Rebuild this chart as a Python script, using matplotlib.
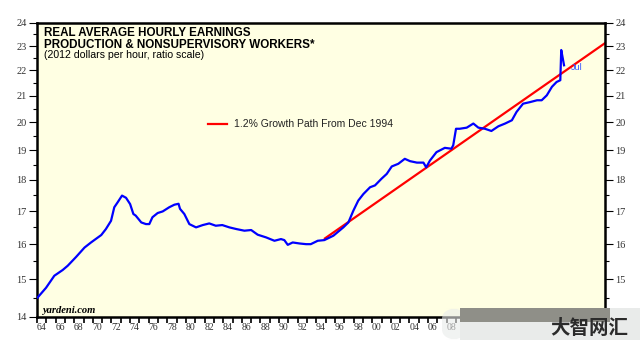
import matplotlib
matplotlib.use("Agg")
import matplotlib.pyplot as plt
from matplotlib.ticker import FixedLocator, NullFormatter, FixedFormatter
from matplotlib.patches import FancyBboxPatch, Rectangle

# real average hourly earnings, production & nonsupervisory workers (2012 $)
years = [1964.07, 1964.97, 1965.86, 1966.76, 1967.3, 1968.2, 1969.1, 1969.8,
         1970.3, 1970.9, 1971.4, 1971.95, 1972.3, 1972.67, 1973.13, 1973.56,
         1974.0, 1974.35, 1974.6, 1975.2, 1975.7, 1976.06, 1976.4, 1976.96,
         1977.5, 1978.2, 1978.75, 1979.2, 1979.36, 1979.82, 1980.36, 1981.08,
         1981.8, 1982.5, 1983.2, 1983.9, 1984.66, 1985.4, 1986.27, 1987.0,
         1987.7, 1988.6, 1989.5, 1990.2, 1990.56, 1990.93, 1991.46, 1992.2,
         1992.9, 1993.4, 1994.15, 1994.86, 1995.83, 1996.9, 1997.44, 1997.97,
         1998.5, 1999.05, 1999.77, 2000.3, 2001.0, 2001.56, 2002.1, 2002.8,
         2003.5, 2004.06, 2004.8, 2005.5, 2005.8, 2006.2, 2006.9, 2007.8,
         2008.5, 2008.7, 2009.0, 2009.4, 2010.15, 2010.86, 2011.4, 2012.1,
         2012.8, 2013.55, 2014.27, 2015.0, 2015.5, 2016.2, 2016.95, 2017.7,
         2018.2, 2018.75, 2019.3, 2019.8, 2020.2, 2020.3, 2020.5, 2020.6]
earnings = [14.51, 14.77, 15.10, 15.26, 15.38, 15.63, 15.90, 16.05,
            16.15, 16.27, 16.45, 16.70, 17.12, 17.28, 17.49, 17.42,
            17.22, 16.91, 16.86, 16.65, 16.60, 16.60, 16.81, 16.94,
            16.99, 17.12, 17.20, 17.23, 17.07, 16.91, 16.60, 16.50,
            16.57, 16.62, 16.55, 16.57, 16.50, 16.45, 16.40, 16.42,
            16.28, 16.20, 16.10, 16.15, 16.12, 15.98, 16.05, 16.02,
            16.00, 16.00, 16.10, 16.12, 16.25, 16.50, 16.65, 17.01,
            17.33, 17.54, 17.76, 17.82, 18.04, 18.20, 18.45, 18.54,
            18.71, 18.63, 18.58, 18.58, 18.42, 18.65, 18.94, 19.09,
            19.06, 19.18, 19.77, 19.77, 19.81, 19.96, 19.81, 19.77,
            19.69, 19.86, 19.96, 20.08, 20.39, 20.70, 20.76, 20.83,
            20.83, 21.02, 21.35, 21.54, 21.61, 22.84, 22.42, 22.21]

# 1.2% growth path from Dec 1994 (end points)
path_years = [1994.92, 2025.0]
path_values = [16.17, 23.13]

y_ticks = [14, 15, 16, 17, 18, 19, 20, 21, 22, 23, 24]
y_minor = [14.5, 15.5, 16.5, 17.5, 18.5, 19.5, 20.5, 21.5, 22.5, 23.5]
year_ticks = list(range(1964, 2026))
# labels after 08 are hidden under the watermark in the reference
label_years = list(range(1964, 2009, 2))
year_labels = ["%02d" % (y % 100) for y in label_years]

fig = plt.figure(figsize=(6.4, 3.56), dpi=100)
ax = fig.add_axes([37 / 640, 1 - 317 / 356, 568 / 640, 294 / 356])
ax.set_facecolor("#ffffe3")

ax.plot(years, earnings, color="#0000ff", lw=1.6, zorder=3)
ax.plot(path_years, path_values, color="#ff0000", lw=1.6, zorder=2,
        label="1.2% Growth Path From Dec 1994")

ax.set_yscale("log")
ax.set_ylim(14, 24)
ax.set_xlim(1964, 2025)

serif = "Liberation Serif"
ax.yaxis.set_major_locator(FixedLocator(y_ticks))
ax.yaxis.set_major_formatter(FixedFormatter([str(v) for v in y_ticks]))
ax.yaxis.set_minor_locator(FixedLocator(y_minor))
ax.yaxis.set_minor_formatter(NullFormatter())
ax.tick_params(axis="y", which="major", direction="out", length=6, width=0.8,
               left=True, right=True, labelleft=True, labelright=True,
               labelsize=7.5, pad=1.5, labelcolor="#333333")
ax.tick_params(axis="y", which="minor", direction="out", length=3, width=0.8,
               left=True, right=True)
for lab in ax.get_yticklabels():
    lab.set_family(serif)
# right-hand "14" sits under the watermark band
ax.yaxis.get_major_ticks()[0].label2.set_visible(False)

ax.xaxis.set_major_locator(FixedLocator(year_ticks))
ax.xaxis.set_major_formatter(NullFormatter())
ax.xaxis.set_minor_locator(FixedLocator([y + 0.5 for y in label_years]))
ax.xaxis.set_minor_formatter(FixedFormatter(year_labels))
ax.tick_params(axis="x", which="major", direction="out", length=4, width=1.2,
               colors="black")
ax.tick_params(axis="x", which="minor", length=0, labelsize=7, pad=4,
               labelcolor="#333333")
for lab in ax.get_xticklabels(minor=True):
    lab.set_family(serif)

for s in ax.spines.values():
    s.set_linewidth(1.8)

fs = dict(transform=fig.transFigure, ha="left", va="baseline")
fig.text(44 / 640, 1 - 35.5 / 356, "REAL AVERAGE HOURLY EARNINGS",
         family="Liberation Sans", weight="bold", fontsize=8.4, **fs)
fig.text(44 / 640, 1 - 47.5 / 356, "PRODUCTION & NONSUPERVISORY WORKERS*",
         family="Liberation Sans", weight="bold", fontsize=8.4, **fs)
fig.text(44 / 640, 1 - 58 / 356, "(2012 dollars per hour, ratio scale)",
         family="Liberation Sans", fontsize=7.6, **fs)
fig.text(42 / 640, 1 - 313 / 356, "yardeni.com", family=serif,
         weight="bold", style="italic", fontsize=7.6, **fs)
ax.text(years[-1] + 0.7, 22.1, "Jul", color="#3355ff", fontsize=6.5,
        family="Liberation Sans", ha="left", va="center")

leg = ax.legend(loc="upper left", bbox_to_anchor=(0.293, 0.686), frameon=False,
                handlelength=1.9, handletextpad=0.6, borderaxespad=0,
                prop={"family": "Liberation Sans", "size": 7.5})
for t in leg.get_texts():
    t.set_color("#222222")

# watermark overlay at bottom right
fig.patches.append(FancyBboxPatch((442 / 640, 16 / 356), 24 / 640, 32 / 356,
                                  boxstyle="round,pad=0,rounding_size=0.03",
                                  transform=fig.transFigure, facecolor="#e9ebea",
                                  edgecolor="none", alpha=0.6, zorder=10))
fig.patches.append(Rectangle((460 / 640, 16 / 356), 180 / 640, 32 / 356,
                             transform=fig.transFigure, facecolor="#e9ebea",
                             edgecolor="none", zorder=10))
fig.patches.append(Rectangle((460 / 640, 34 / 356), 150 / 640, 14 / 356,
                             transform=fig.transFigure, facecolor="#8f8f88",
                             edgecolor="none", zorder=11))
fig.text(589 / 640, 1 - 328 / 356, "大智网汇", family="Noto Sans CJK SC",
         weight="bold", fontsize=14, color="#2b2b2b", ha="center", va="center",
         zorder=12)

fig.savefig("out.png", dpi=100)
